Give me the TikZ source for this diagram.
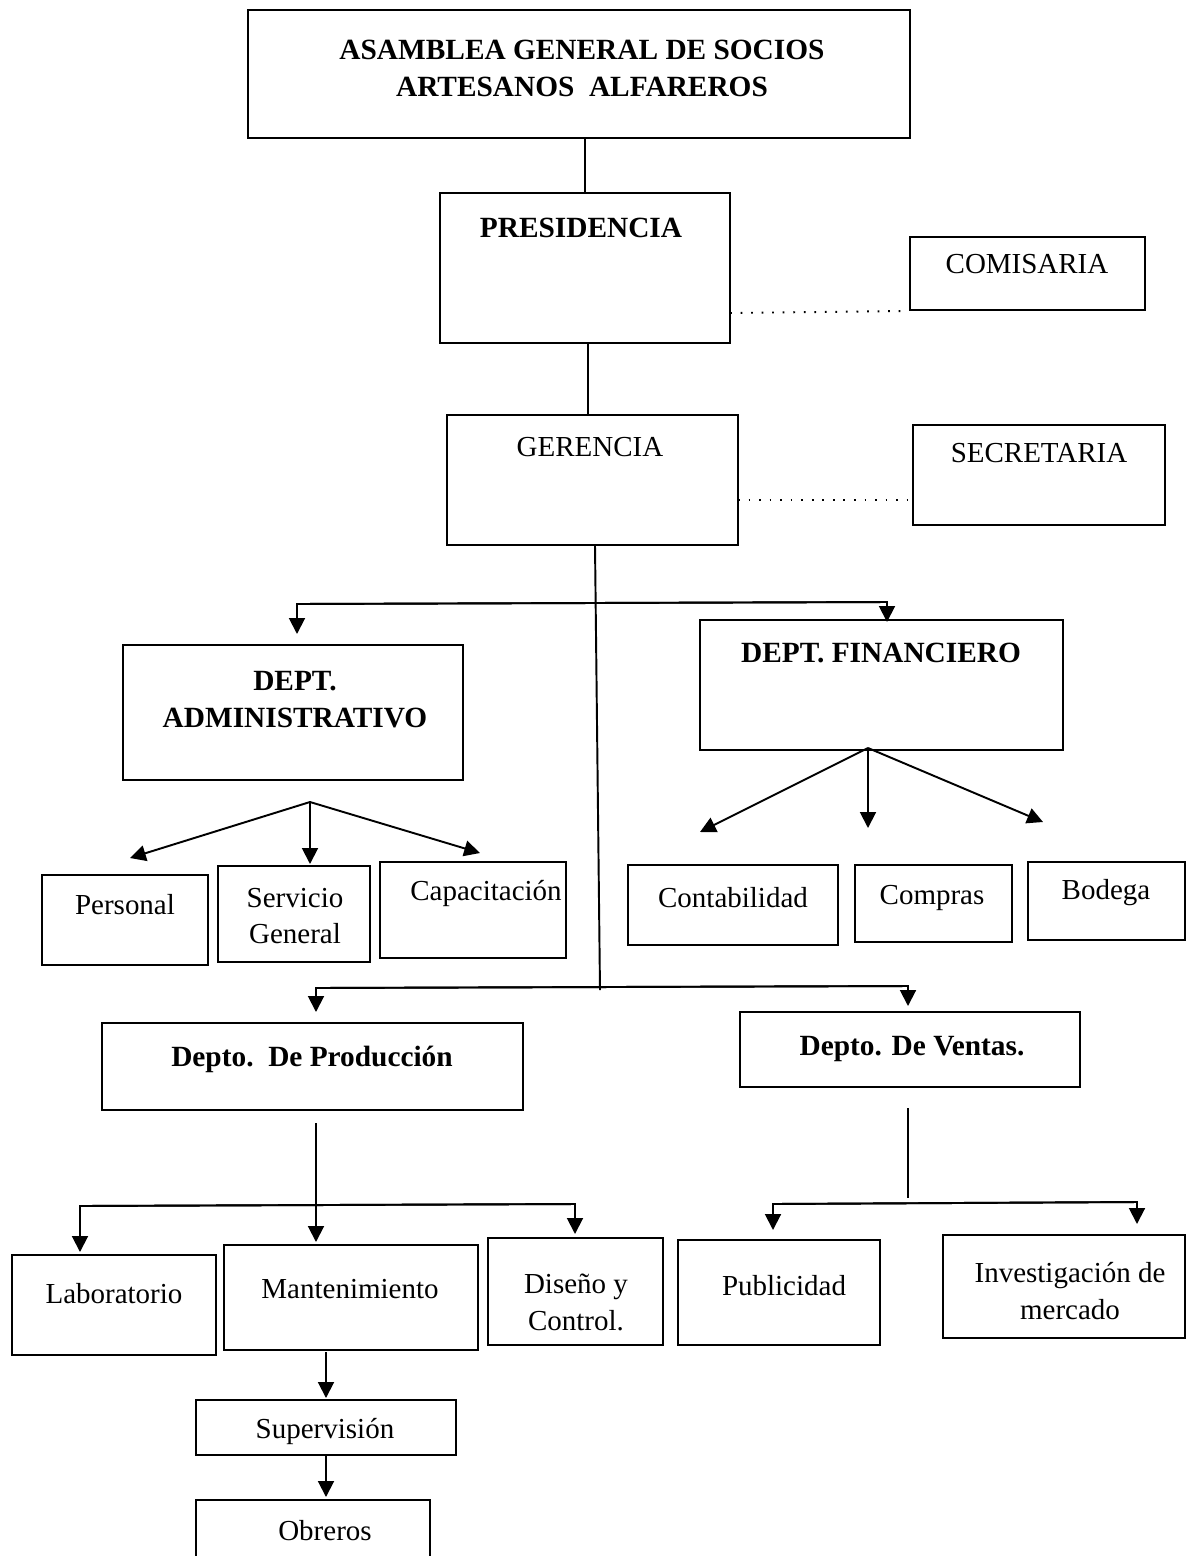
\documentclass[tikz,border=0pt]{standalone}
\usepackage{fontspec}
\setmainfont{Liberation Serif}
\usetikzlibrary{fit,arrows.meta}
\begin{document}
\begin{tikzpicture}[x=0.02cm,y=-0.02cm,
  box/.style={draw,line width=1.1pt,inner sep=0pt},
  txt/.style={font=\fontsize{16.5}{21}\selectfont,align=center,inner sep=0pt},
  btxt/.style={txt,font=\fontsize{16.7}{21}\selectfont\bfseries},
  con/.style={line width=1.1pt},
  arr/.style={line width=1.1pt,-{Triangle[length=9pt,width=9pt]}},
  dots/.style={line width=1.1pt,dash pattern=on 1pt off 5pt}]
\useasboundingbox (0,0) rectangle (1189,1556);

% boxes
\node[box,fit={(248,10) (910,138)}] (asam) {};
\node[box,fit={(440,193) (730,343)}] (pres) {};
\node[box,fit={(910,237) (1145,310)}] (comi) {};
\node[box,fit={(447,415) (738,545)}] (ger) {};
\node[box,fit={(913,425) (1165,525)}] (secr) {};
\node[box,fit={(123,645) (463,780)}] (dadm) {};
\node[box,fit={(700,620) (1063,750)}] (dfin) {};
\node[box,fit={(42,875) (208,965)}] (pers) {};
\node[box,fit={(218,866) (370,962)}] (serv) {};
\node[box,fit={(380,862) (566,958)}] (capa) {};
\node[box,fit={(628,865) (838,945)}] (cont) {};
\node[box,fit={(855,865) (1012,942)}] (comp) {};
\node[box,fit={(1028,862) (1185,940)}] (bode) {};
\node[box,fit={(102,1023) (523,1110)}] (dpro) {};
\node[box,fit={(740,1012) (1080,1087)}] (dven) {};
\node[box,fit={(12,1255) (216,1355)}] (labo) {};
\node[box,fit={(224,1245) (478,1350)}] (mant) {};
\node[box,fit={(488,1238) (663,1345)}] (dise) {};
\node[box,fit={(678,1240) (880,1345)}] (publ) {};
\node[box,fit={(943,1235) (1185,1338)}] (inve) {};
\node[box,fit={(196,1400) (456,1455)}] (supe) {};
\node[box,fit={(196,1500) (430,1570)}] (obre) {};

% texts
\node[btxt] (tasam) at (582,68) {ASAMBLEA GENERAL DE SOCIOS\\ARTESANOS\ \ ALFAREROS};
\node[btxt] (tpres) at (581,228) {PRESIDENCIA};
\node[txt] (tcomi) at (1027,264) {COMISARIA};
\node[txt] (tger) at (590,447) {GERENCIA};
\node[txt] (tsecr) at (1039,453) {SECRETARIA};
\node[btxt] (tdadm) at (295,700) {DEPT.\\ADMINISTRATIVO};
\node[btxt] (tdfin) at (881,653) {DEPT. FINANCIERO};
\node[txt] (tpers) at (125,905) {Personal};
\node[txt] (tserv) at (295,916) {Servicio\\General};
\node[txt] (tcapa) at (486,893) {Capacitación};
\node[txt] (tcont) at (733,898) {Contabilidad};
\node[txt] (tcomp) at (932,898) {Compras};
\node[txt] (tbode) at (1106,893) {Bodega};
\node[btxt] (tdpro) at (312,1059) {Depto.\ \ De Producción};
\node[btxt] (tdven) at (912,1049) {Depto. De Ventas.};
\node[txt] (tlabo) at (114,1294) {Laboratorio};
\node[txt] (tmant) at (350,1289) {Mantenimiento};
\node[txt] (tdise) at (576,1302) {Diseño y\\Control.};
\node[txt] (tpubl) at (784,1286) {Publicidad};
\node[txt] (tinve) at (1070,1291) {Investigación de\\mercado};
\node[txt] (tsupe) at (325,1431) {Supervisión};
\node[txt] (tobre) at (325,1531) {Obreros};

% top connectors
\draw[con] (pres.north) -- (pres.north|-asam.south);
\coordinate (pg) at (588,343);
\draw[con] (pg) -- (pg|-ger.north);
\coordinate (pdot) at (730,313);
\draw[dots] (pdot) -- (comi.south west);
\coordinate (gdot) at (738,500);
\draw[dots] (gdot) -- (secr.south west|-gdot);

% trunk
\coordinate (gtop) at (595,545);
\coordinate (gbot) at (600,990);
\draw[con] (gtop) -- (gbot);
\coordinate (h1l) at (297,604);
\coordinate (h1r) at (887,602);
\coordinate (a1l) at (297,634);
\coordinate (a1r) at (887,622);
\draw[arr] (h1r) -- (h1l) -- (a1l);
\draw[arr] (h1l) -- (h1r) -- (a1r);

% admin branches
\coordinate (ja) at (310,802);
\coordinate (ea1) at (130,858);
\coordinate (ea2) at (310,864);
\coordinate (ea3) at (480,853);
\draw[arr] (ja) -- (ea1);
\draw[arr] (ja) -- (ea2);
\draw[arr] (ja) -- (ea3);

% financial branches
\coordinate (jf) at (868,748);
\coordinate (ef1) at (700,832);
\coordinate (ef2) at (868,828);
\coordinate (ef3) at (1043,822);
\draw[arr] (jf) -- (ef1);
\draw[arr] (jf) -- (ef2);
\draw[arr] (jf) -- (ef3);

% second level
\coordinate (h2l) at (316,988);
\coordinate (h2r) at (908,986);
\coordinate (a2l) at (316,1012);
\coordinate (a2r) at (908,1006);
\draw[arr] (h2r) -- (h2l) -- (a2l);
\draw[arr] (h2l) -- (h2r) -- (a2r);

% production branches
\coordinate (pv1) at (316,1123);
\coordinate (pv2) at (316,1242);
\draw[arr] (pv1) -- (pv2);
\coordinate (h3l) at (80,1206);
\coordinate (h3r) at (575,1204);
\coordinate (a3l) at (80,1252);
\coordinate (a3r) at (575,1234);
\draw[arr] (h3r) -- (h3l) -- (a3l);
\draw[arr] (h3l) -- (h3r) -- (a3r);

% sales branches
\coordinate (vv1) at (908,1108);
\coordinate (vv2) at (908,1198);
\draw[con] (vv1) -- (vv2);
\coordinate (h4l) at (773,1204);
\coordinate (h4r) at (1137,1202);
\coordinate (a4l) at (773,1230);
\coordinate (a4r) at (1137,1224);
\draw[arr] (h4r) -- (h4l) -- (a4l);
\draw[arr] (h4l) -- (h4r) -- (a4r);

% bottom chain
\coordinate (m1) at (326,1352);
\coordinate (m2) at (326,1398);
\draw[arr] (m1) -- (m2);
\coordinate (s1) at (326,1455);
\coordinate (s2) at (326,1497);
\draw[arr] (s1) -- (s2);
\end{tikzpicture}
\end{document}
